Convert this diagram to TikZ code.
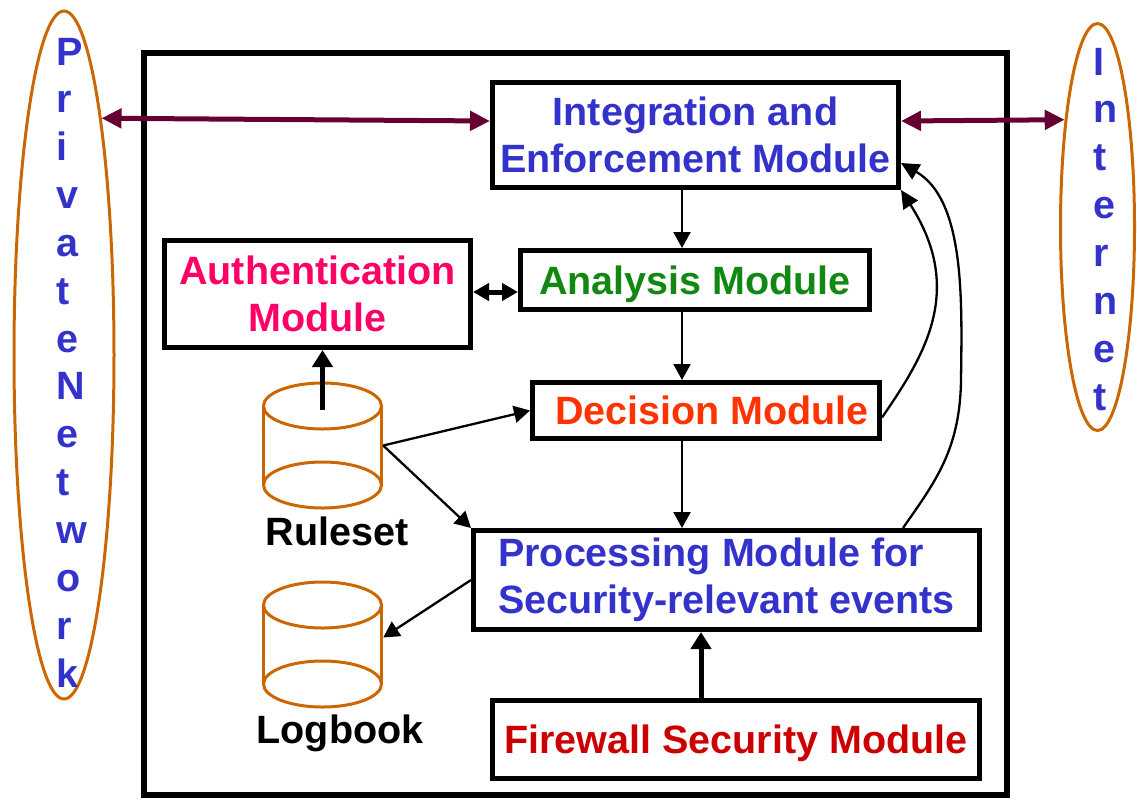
\documentclass[tikz,border=0pt]{standalone}
\usepackage{fontspec}
\setmainfont{Liberation Sans}
\usetikzlibrary{arrows.meta,shapes.geometric,calc}
\definecolor{tblue}{RGB}{51,51,204}
\definecolor{tpink}{RGB}{255,0,102}
\definecolor{tgreen}{RGB}{17,136,17}
\definecolor{tdec}{RGB}{255,51,0}
\definecolor{tfire}{RGB}{204,0,0}
\definecolor{tmaroon}{RGB}{102,0,51}
\definecolor{torange}{RGB}{204,102,0}
\begin{document}
\begin{tikzpicture}[x=1pt,y=-1pt,
  txt/.style={font=\fontsize{39.5}{47}\selectfont\bfseries},
  box/.style={draw, line width=5pt, inner sep=0pt, txt, align=center},
  letter/.style={txt, text=tblue, inner sep=0pt, anchor=base west},
  oval/.style={draw=torange, line width=3pt, ellipse, inner sep=0pt},
  cyl/.style={draw=torange, line width=3pt},
  arr/.style={draw, line width=2.3pt, -{Triangle[length=16pt,width=17pt]}},
  thickarr/.style={draw, line width=5pt, -{Triangle[length=17pt,width=20pt]}},
  netarr/.style={draw=tmaroon, line width=5pt, {Triangle[length=20pt,width=19pt]}-{Triangle[length=20pt,width=19pt]}},
  dblarr/.style={draw, line width=5pt, {Triangle[length=16pt,width=17pt]}-{Triangle[length=16pt,width=17pt]}},
  curvarr/.style={draw, line width=2.3pt, -{Triangle[length=18pt,width=17pt]}},
  dblabel/.style={txt, text=black, inner sep=0pt, anchor=base}
]
\useasboundingbox (0,0) rectangle (1137,801);

% outer frame
\node[draw, line width=6pt, minimum width=863pt, minimum height=742pt, inner sep=0pt] (frame) at (575.5,424) {};

% side ellipses
\node[oval, minimum width=100pt, minimum height=688pt] (lefte) at (64,355) {};
\node[oval, minimum width=74pt, minimum height=407pt] (righte) at (1097.5,227) {};
\foreach \ch [count=\i] in {P,r,i,v,a,t,e,N,e,t,w,o,r,k}
  \node[letter] (pn\i) at (56,{65+47.85*(\i-1)}) {\ch};
\foreach \ch [count=\i] in {I,n,t,e,r,n,e,t}
  \node[letter] (in\i) at (1093,{75+47.86*(\i-1)}) {\ch};

% module boxes
\node[box, text=tblue, minimum width=406pt, minimum height=105pt] (integ) at (695.5,135) {\raisebox{-2pt}{Integration and}\\\raisebox{-2pt}{Enforcement Module}};
\node[box, text=tpink, minimum width=306pt, minimum height=107pt] (auth) at (317.5,294) {Authentication\\Module};
\node[box, text=tgreen, text depth=0pt, minimum width=349pt, minimum height=59pt] (analysis) at (695,280) {Analysis Module};
\node[box, text=tdec, text depth=0pt, minimum width=347pt, minimum height=56pt] (decision) at (706,410.5) {\hspace*{12pt}Decision Module};
\node[box, text=tblue, align=left, minimum width=506pt, minimum height=99pt] (proc) at (726.5,580) {Processing Module for\\Security-relevant events};
\node[box, text=tfire, text depth=0pt, minimum width=487pt, minimum height=78pt] (fire) at (736,739.5) {Firewall Security Module};

% databases
\node[inner sep=0pt, minimum width=121pt, minimum height=127pt] (ruleset) at (322.5,445.5) {};
\draw[cyl] (322.5,406) ellipse [x radius=59, y radius=23];
\draw[cyl] (322.5,485) ellipse [x radius=59, y radius=23];
\draw[cyl] (263.5,406) -- (263.5,485) (381.5,406) -- (381.5,485);
\node[dblabel] (rulesetlabel) at (337,545) {Ruleset};
\coordinate (rstop) at (322.5,410);

\node[inner sep=0pt, minimum width=121pt, minimum height=127pt] (logbook) at (322.5,644.5) {};
\draw[cyl] (322.5,605) ellipse [x radius=59, y radius=23];
\draw[cyl] (322.5,684) ellipse [x radius=59, y radius=23];
\draw[cyl] (263.5,605) -- (263.5,684) (381.5,605) -- (381.5,684);
\node[dblabel] (logbooklabel) at (340,743) {Logbook};

% connectors
\draw[netarr] (lefte.81) -- ([yshift=14pt]integ.west);
\draw[netarr] ([yshift=14pt]integ.east) -- (righte.107);
\draw[arr] (integ.south -| 682,0) -- (analysis.north -| 682,0);
\draw[arr] (analysis.south -| 682,0) -- (decision.north -| 682,0);
\draw[arr] (decision.south -| 682,0) -- (proc.north -| 682,0);
\draw[thickarr] (fire.north -| 701,0) -- (proc.south -| 701,0);
\draw[dblarr] (auth.east |- 0,292) -- (analysis.west |- 0,292);
\draw[thickarr] (rstop) -- (rstop |- auth.south);
\draw[arr] (ruleset.east) -- (decision.west);
\draw[arr] (ruleset.east) -- (proc.north west);
\draw[arr] (proc.west) -- ([yshift=7pt]logbook.east);
\draw[curvarr] ([yshift=-7pt]decision.east) .. controls (925,355) and (965,290) .. (integ.south east);
\draw[curvarr] (proc.north -| 903,0) .. controls (935,482) and (960,450) .. (961,380)
   .. controls (962,300) and (965,200) .. ([yshift=-28pt]integ.east);
\end{tikzpicture}
\end{document}
